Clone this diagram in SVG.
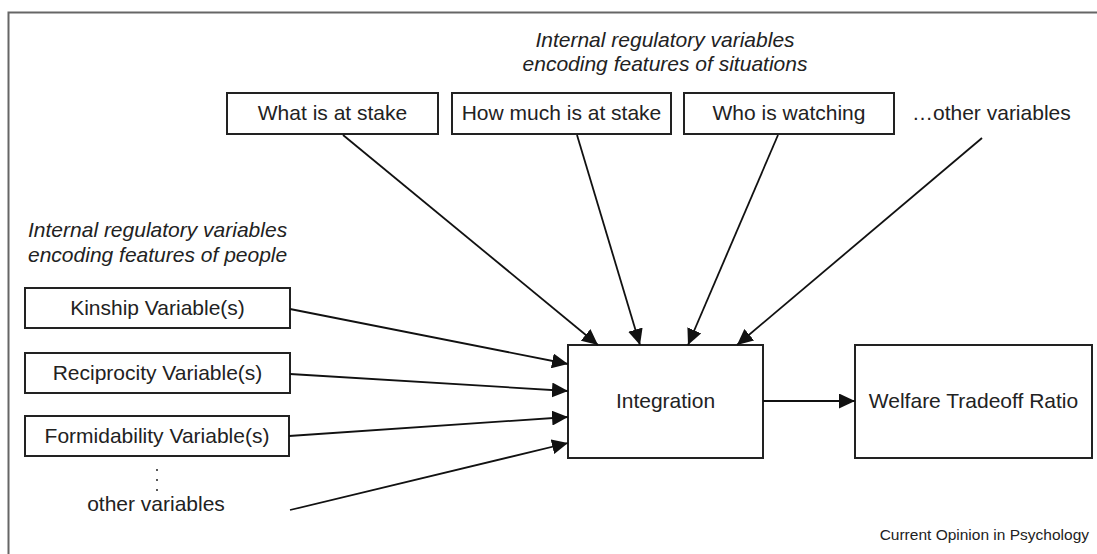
<svg xmlns="http://www.w3.org/2000/svg" width="1097" height="554" viewBox="0 0 1097 554">
  <style>
    .box { fill: #ffffff; stroke: #222222; stroke-width: 2; }
    .lbl { font-family: "Liberation Sans", Arial, sans-serif; font-size: 21px; fill: #222222; }
    .mid { text-anchor: middle; }
    .hdr { font-family: "Liberation Sans", Arial, sans-serif; font-size: 21px; font-style: italic; fill: #222222; }
    .edge { stroke: #111111; stroke-width: 1.8; fill: none; marker-end: url(#head); }
    .credit { font-family: "Liberation Sans", Arial, sans-serif; font-size: 15.5px; fill: #222222; text-anchor: end; }
  </style>
  <defs>
    <marker id="head" markerUnits="userSpaceOnUse" markerWidth="17" markerHeight="15" refX="16" refY="7.5" orient="auto">
      <path d="M0,0 L16,7.5 L0,15 Z" fill="#111111"/>
    </marker>
  </defs>

  <rect x="0" y="0" width="1097" height="554" fill="#ffffff"/>
  <!-- outer frame (open at right and bottom) -->
  <path d="M8.5,560 V12.5 H1100" fill="none" stroke="#666666" stroke-width="2"/>

  <!-- section headings -->
  <g id="heading-situations">
    <text class="hdr mid" x="665" y="47">Internal regulatory variables</text>
    <text class="hdr mid" x="665" y="71">encoding features of situations</text>
  </g>
  <g id="heading-people">
    <text class="hdr" x="28" y="237">Internal regulatory variables</text>
    <text class="hdr" x="28" y="262">encoding features of people</text>
  </g>

  <!-- situation variables -->
  <g id="what-at-stake">
    <rect class="box" x="227" y="93" width="211" height="41"/>
    <text class="lbl mid" x="332.5" y="120">What is at stake</text>
  </g>
  <g id="how-much-at-stake">
    <rect class="box" x="452" y="93" width="219" height="41"/>
    <text class="lbl mid" x="561.5" y="120">How much is at stake</text>
  </g>
  <g id="who-watching">
    <rect class="box" x="684" y="93" width="210" height="41"/>
    <text class="lbl mid" x="789" y="120">Who is watching</text>
  </g>
  <g id="other-situation">
    <text class="lbl" x="912" y="120">…other variables</text>
  </g>

  <!-- person variables -->
  <g id="kinship">
    <rect class="box" x="25" y="288" width="265" height="40"/>
    <text class="lbl mid" x="157.5" y="315">Kinship Variable(s)</text>
  </g>
  <g id="reciprocity">
    <rect class="box" x="25" y="353" width="265" height="40"/>
    <text class="lbl mid" x="157.5" y="380">Reciprocity Variable(s)</text>
  </g>
  <g id="formidability">
    <rect class="box" x="25" y="416" width="264" height="40"/>
    <text class="lbl mid" x="157" y="443">Formidability Variable(s)</text>
  </g>
  <g id="other-people">
    <circle cx="157" cy="470" r="1" fill="#222222"/>
    <circle cx="157" cy="480" r="1" fill="#222222"/>
    <circle cx="157" cy="490" r="1" fill="#222222"/>
    <text class="lbl mid" x="156" y="511">other variables</text>
  </g>

  <!-- integration and output -->
  <g id="integration">
    <rect class="box" x="568" y="345" width="195" height="113"/>
    <text class="lbl mid" x="665.5" y="408">Integration</text>
  </g>
  <g id="wtr">
    <rect class="box" x="855" y="345" width="237" height="113"/>
    <text class="lbl mid" x="973.5" y="408">Welfare Tradeoff Ratio</text>
  </g>

  <!-- connectors -->
  <g id="connectors">
    <line class="edge" x1="343" y1="135" x2="598" y2="345"/>
    <line class="edge" x1="577" y1="135" x2="640" y2="345"/>
    <line class="edge" x1="778" y1="135" x2="688" y2="345"/>
    <line class="edge" x1="982" y1="138" x2="737" y2="345"/>
    <line class="edge" x1="290" y1="309" x2="568" y2="364"/>
    <line class="edge" x1="290" y1="374" x2="568" y2="391"/>
    <line class="edge" x1="289" y1="436" x2="568" y2="417"/>
    <line class="edge" x1="290" y1="510" x2="568" y2="443"/>
    <line class="edge" x1="763" y1="401" x2="855" y2="401"/>
  </g>

  <text class="credit" x="1089" y="540">Current Opinion in Psychology</text>
</svg>
